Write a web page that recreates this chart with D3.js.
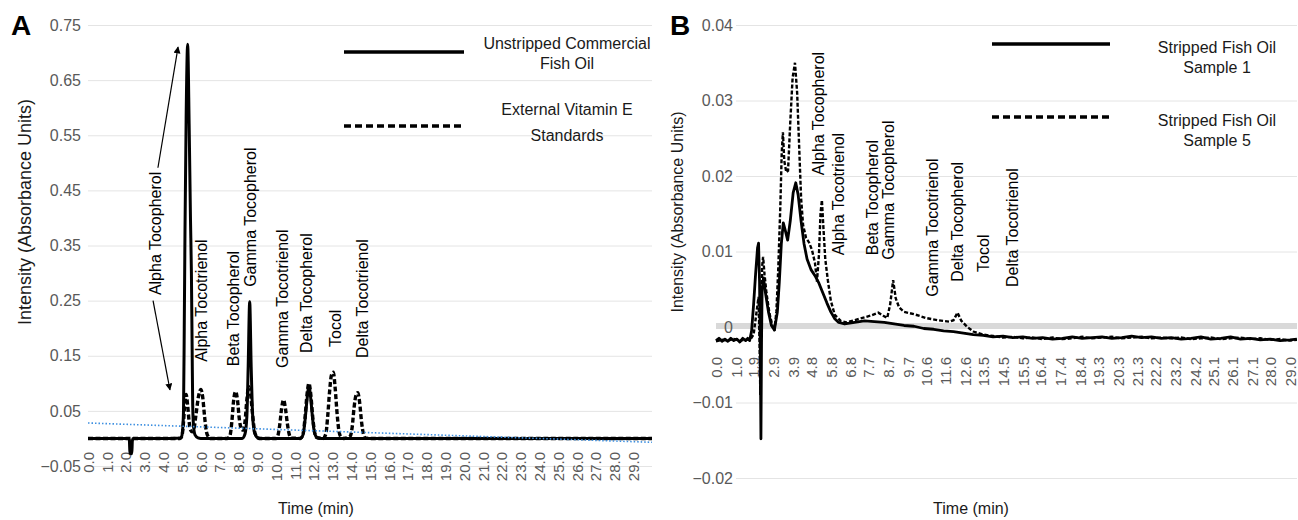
<!DOCTYPE html>
<html>
<head>
<meta charset="utf-8">
<script src="https://cdn.jsdelivr.net/npm/d3@7"></script>
<style>
  body { margin: 0; background: #fff; }
  svg text { font-family: "Liberation Sans", Arial, sans-serif; }
</style>
</head>
<body>
<svg id="chart" width="1298" height="520"></svg>
<script>
// ---- panel A data ----
var timeTicksA = [0,1,2,3,4,5,6,7,8,9,10,11,12,13,14,15,16,17,18,19,20,21,22,23,24,25,26,27,28,29];
var intensityTicksA = [-0.05,0.05,0.15,0.25,0.35,0.45,0.55,0.65,0.75];

// Unstripped Commercial Fish Oil  [time, intensity]
var unstrippedOil = [
  [0,0],[2.15,0],[2.2,-0.003],[2.23,-0.027],[2.33,-0.028],[2.36,-0.004],[2.4,0],[4.0,0],
  [4.95,0.001],[5.02,0.01],[5.08,0.05],[5.12,0.2],[5.16,0.38],[5.22,0.58],[5.3,0.715],
  [5.38,0.57],[5.45,0.4],[5.5,0.3],[5.54,0.16],[5.57,0.06],[5.62,0.02],[5.7,0.006],[5.85,0.001],
  [6.0,0],[8.2,0],[8.35,0.008],[8.45,0.04],[8.52,0.13],[8.6,0.248],[8.68,0.13],[8.76,0.04],
  [8.86,0.01],[9.0,0.002],[9.2,0],[11.3,0],[11.45,0.008],[11.55,0.035],[11.65,0.07],
  [11.75,0.095],[11.85,0.072],[11.95,0.035],[12.05,0.01],[12.2,0.001],[12.4,0],[30,0]
];

// External Vitamin E Standards
var vitaminEStd = [
  [0,0],[4.9,0],[5.0,0.005],[5.08,0.03],[5.15,0.065],[5.22,0.08],[5.3,0.06],[5.38,0.03],
  [5.46,0.015],[5.55,0.012],[5.65,0.02],[5.75,0.045],[5.9,0.08],[6.0,0.089],[6.1,0.075],
  [6.2,0.04],[6.3,0.012],[6.4,0.003],[6.5,0],[7.4,0],[7.55,0.005],[7.65,0.03],[7.75,0.07],
  [7.85,0.085],[7.95,0.07],[8.05,0.035],[8.15,0.018],[8.25,0.015],[8.35,0.03],[8.45,0.07],
  [8.55,0.094],[8.65,0.08],[8.75,0.045],[8.85,0.015],[8.95,0.004],[9.1,0],[10.0,0],
  [10.1,0.005],[10.2,0.025],[10.3,0.055],[10.4,0.07],[10.5,0.055],[10.6,0.028],[10.7,0.008],
  [10.8,0.001],[11.3,0],[11.45,0.01],[11.55,0.04],[11.65,0.08],[11.75,0.1],[11.85,0.08],
  [11.95,0.04],[12.05,0.012],[12.15,0.002],[12.5,0],[12.65,0.008],[12.75,0.04],[12.85,0.085],
  [12.95,0.115],[13.05,0.12],[13.15,0.09],[13.25,0.045],[13.35,0.013],[13.45,0.003],[13.6,0],
  [13.95,0.004],[14.05,0.02],[14.15,0.055],[14.25,0.078],[14.35,0.083],[14.45,0.065],
  [14.55,0.03],[14.65,0.008],[14.75,0.001],[15,0],[30,0]
];

var trendA = [[0,0.028],[30,-0.007]];

var compoundsA = ["Alpha Tocopherol","Alpha Tocotrienol","Beta Tocopherol","Gamma Tocopherol",
  "Gamma Tocotrienol","Delta Tocopherol","Tocol","Delta Tocotrienol"];
var compoundTimeA = [3.56,6.01,7.71,8.62,10.32,11.6,13.14,14.57];
var compoundBaseA = [0.26,0.139,0.131,0.275,0.128,0.155,0.166,0.146];
// arrows from the Alpha Tocopherol label  [t1, v1, t2, v2]
var arrowsA = [[3.72,0.491,4.79,0.71],[3.46,0.25,4.36,0.088]];

// ---- panel B data ----
var timeTicksB = [0.0,1.0,1.9,2.9,3.9,4.8,5.8,6.8,7.7,8.7,9.7,10.6,11.6,12.6,13.5,14.5,15.5,
  16.4,17.4,18.4,19.3,20.3,21.3,22.2,23.2,24.2,25.1,26.1,27.1,28.0,29.0];
var intensityTicksB = [-0.02,-0.01,0,0.01,0.02,0.03,0.04];

// Stripped Fish Oil Sample 1
var sample1 = [
  [0,-0.0018],[0.15,-0.0015],[0.3,-0.0019],[0.45,-0.0016],[0.6,-0.0019],[0.75,-0.0015],
  [0.9,-0.0018],[1.05,-0.0016],[1.2,-0.0020],[1.35,-0.0015],[1.5,-0.0018],[1.6,-0.0015],[1.7,-0.0018],
  [1.8,-0.0005],[1.9,0.003],[2.0,0.007],[2.1,0.0105],[2.15,0.0111],[2.2,0.006],[2.24,-0.004],
  [2.27,-0.0148],[2.3,-0.002],[2.33,0.005],[2.4,0.0065],[2.5,0.0045],[2.65,0.002],[2.8,0.0002],
  [2.95,-0.0004],[3.1,0.002],[3.2,0.006],[3.3,0.011],[3.4,0.0138],[3.5,0.0128],[3.62,0.0115],
  [3.75,0.014],[3.9,0.0178],[4.03,0.0191],[4.15,0.0175],[4.3,0.014],[4.45,0.011],[4.6,0.009],
  [4.8,0.0076],[5.0,0.0068],[5.2,0.0058],[5.4,0.0045],[5.6,0.0032],[5.8,0.002],[6.0,0.0011],
  [6.2,0.0006],[6.5,0.0004],[7.0,0.0006],[7.5,0.0008],[8.0,0.0007],[8.5,0.0006],[9.0,0.0004],
  [9.5,0.0002],[10.0,0.0001],[10.5,-0.0002],[11.0,-0.0003],[11.5,-0.0005],[12.0,-0.0006],
  [12.5,-0.0008],[13.0,-0.001],[13.5,-0.0011],[14.0,-0.0013],[14.5,-0.0012],[15.0,-0.0014],
  [15.5,-0.0013],[16.0,-0.0015],[16.5,-0.0014],[17.0,-0.0016],[17.5,-0.0015],[18.0,-0.0013],
  [18.5,-0.0015],[19.0,-0.0014],[19.5,-0.0013],[20.0,-0.0015],[20.5,-0.0014],[21.0,-0.0012],
  [21.5,-0.0014],[22.0,-0.0013],[22.5,-0.0015],[23.0,-0.0014],[23.5,-0.0016],[24.0,-0.0015],
  [24.5,-0.0013],[25.0,-0.0016],[25.5,-0.0015],[26.0,-0.0013],[26.5,-0.0016],[27.0,-0.0015],
  [27.5,-0.0017],[28.0,-0.0016],[28.5,-0.0018],[29.0,-0.0017],[29.35,-0.0016]
];

// Stripped Fish Oil Sample 5
var sample5 = [
  [0,-0.0019],[0.3,-0.0017],[0.6,-0.0018],[0.9,-0.0016],[1.2,-0.0018],[1.5,-0.0017],[1.75,-0.0016],
  [1.9,-0.001],[2.05,0.002],[2.15,0.004],[2.2,-0.002],[2.24,-0.009],[2.28,0.001],[2.33,0.008],
  [2.38,0.0093],[2.45,0.007],[2.55,0.0045],[2.7,0.0018],[2.85,0.0002],[2.95,-0.0005],[3.05,0.002],
  [3.15,0.008],[3.25,0.016],[3.32,0.023],[3.38,0.0258],[3.45,0.022],[3.55,0.0205],[3.64,0.0207],
  [3.75,0.027],[3.87,0.033],[3.99,0.035],[4.1,0.031],[4.2,0.024],[4.3,0.017],[4.4,0.0135],
  [4.55,0.0118],[4.7,0.0112],[4.85,0.0102],[5.0,0.0085],[5.1,0.006],[5.2,0.0095],[5.28,0.015],
  [5.35,0.0168],[5.43,0.013],[5.52,0.009],[5.65,0.0062],[5.8,0.0035],[6.0,0.0016],[6.3,0.0008],
  [6.6,0.0006],[7.0,0.0009],[7.4,0.0012],[7.8,0.0015],[8.2,0.0019],[8.45,0.0015],[8.65,0.0012],
  [8.8,0.003],[8.95,0.0062],[9.08,0.0038],[9.25,0.0026],[9.5,0.002],[10.0,0.0017],[10.6,0.0012],
  [11.2,0.0009],[11.8,0.0007],[12.0,0.0009],[12.2,0.0019],[12.4,0.0008],[12.7,0.0],[13.0,-0.0006],
  [13.5,-0.001],[14.0,-0.0012],[14.5,-0.0014],[15.0,-0.0013],[15.5,-0.0015],[16.0,-0.0014],
  [16.5,-0.0016],[17.0,-0.0014],[17.5,-0.0016],[18.0,-0.0015],[18.5,-0.0013],[19.0,-0.0015],
  [19.5,-0.0014],[20.0,-0.0013],[20.5,-0.0015],[21.0,-0.0014],[21.5,-0.0013],[22.0,-0.0015],
  [22.5,-0.0014],[23.0,-0.0015],[23.5,-0.0014],[24.0,-0.0016],[24.5,-0.0015],[25.0,-0.0014],
  [25.5,-0.0016],[26.0,-0.0015],[26.5,-0.0014],[27.0,-0.0016],[27.5,-0.0015],[28.0,-0.0017],
  [28.5,-0.0016],[29.0,-0.0018],[29.35,-0.0017]
];

var compoundTimeB = [5.15,6.16,7.88,8.69,10.92,12.18,13.5,14.97];
var compoundBaseB = [0.0201,0.0095,0.0095,0.0089,0.004,0.006,0.0073,0.0053];

var svg = d3.select("#chart");
var gridColor = "#e4e4e4";
var tickColor = "#595959";

svg.append("defs").append("marker")
  .attr("id", "arrowhead")
  .attr("viewBox", "0 0 10 10")
  .attr("refX", 9).attr("refY", 5)
  .attr("markerWidth", 7).attr("markerHeight", 7)
  .attr("markerUnits", "userSpaceOnUse")
  .attr("orient", "auto")
  .append("path").attr("d", "M0,0 L10,5 L0,10 z").attr("fill", "#000");

// ================= Panel A =================
var xA = d3.scaleLinear().domain([0, 30]).range([88, 652]);
var yA = d3.scaleLinear().domain([-0.05, 0.75]).range([466, 25]);

var yAxisA = svg.append("g")
  .attr("transform", "translate(88,0)")
  .call(d3.axisLeft(yA).tickValues(intensityTicksA).tickSize(-564).tickPadding(7)
    .tickFormat(d3.format(".2f")));
yAxisA.select(".domain").remove();
yAxisA.selectAll("line").attr("stroke", gridColor);
yAxisA.selectAll("text").attr("fill", tickColor).style("font-size", "16px");

var xAxisA = svg.append("g")
  .attr("transform", "translate(0,446)")
  .call(d3.axisBottom(xA).tickValues(timeTicksA).tickSize(0).tickFormat(d3.format(".1f")));
xAxisA.select(".domain").remove();
xAxisA.selectAll("text")
  .attr("transform", "rotate(-90)")
  .attr("text-anchor", "end")
  .attr("x", -6).attr("y", 0).attr("dy", "0.35em")
  .attr("fill", tickColor).style("font-size", "15px");

var lineA = d3.line().x(function(d){ return xA(d[0]); }).y(function(d){ return yA(d[1]); })
  .curve(d3.curveMonotoneX);

svg.append("path").datum(unstrippedOil).attr("d", lineA)
  .attr("fill", "none").attr("stroke", "#000").attr("stroke-width", 3);
svg.append("path").datum(vitaminEStd).attr("d", lineA)
  .attr("fill", "none").attr("stroke", "#000").attr("stroke-width", 3.4)
  .attr("stroke-dasharray", "5,2.5");
svg.append("path").datum(trendA).attr("d", d3.line().x(function(d){ return xA(d[0]); }).y(function(d){ return yA(d[1]); }))
  .attr("fill", "none").attr("stroke", "#3d8fe0").attr("stroke-width", 1.6)
  .attr("stroke-dasharray", "1.5,2");

svg.append("g").selectAll("text")
  .data(compoundsA)
  .join("text")
  .attr("transform", function(d, i){ return "translate(" + xA(compoundTimeA[i]) + "," + yA(compoundBaseA[i]) + ") rotate(-90)"; })
  .attr("dy", "0.35em")
  .attr("fill", "#000")
  .style("font-size", "16px")
  .text(function(d){ return d; });

svg.append("g").selectAll("line")
  .data(arrowsA)
  .join("line")
  .attr("x1", function(d){ return xA(d[0]); }).attr("y1", function(d){ return yA(d[1]); })
  .attr("x2", function(d){ return xA(d[2]); }).attr("y2", function(d){ return yA(d[3]); })
  .attr("stroke", "#000").attr("stroke-width", 1.2)
  .attr("marker-end", "url(#arrowhead)");

// legend A
svg.append("line").attr("x1", 344).attr("x2", 464).attr("y1", 52).attr("y2", 52)
  .attr("stroke", "#000").attr("stroke-width", 3.5);
svg.append("line").attr("x1", 344).attr("x2", 464).attr("y1", 126).attr("y2", 126)
  .attr("stroke", "#000").attr("stroke-width", 3.5).attr("stroke-dasharray", "7,4");
var legA = svg.append("text").attr("text-anchor", "middle").attr("fill", "#1a1a1a").style("font-size", "16px");
legA.append("tspan").attr("x", 567).attr("y", 49).text("Unstripped Commercial");
legA.append("tspan").attr("x", 567).attr("y", 69).text("Fish Oil");
var legA2 = svg.append("text").attr("text-anchor", "middle").attr("fill", "#1a1a1a").style("font-size", "16px");
legA2.append("tspan").attr("x", 567).attr("y", 115).text("External  Vitamin E");
legA2.append("tspan").attr("x", 567).attr("y", 141).text("Standards");

svg.append("text").attr("transform", "translate(25,212) rotate(-90)")
  .attr("text-anchor", "middle").attr("dy", "0.35em").attr("fill", "#1a1a1a")
  .style("font-size", "18px").text("Intensity (Absorbance Units)");
svg.append("text").attr("x", 316).attr("y", 514).attr("text-anchor", "middle")
  .attr("fill", "#1a1a1a").style("font-size", "16px").text("Time (min)");
svg.append("text").attr("x", 11).attr("y", 35).style("font-size", "28px")
  .style("font-weight", "bold").text("A");

// ================= Panel B =================
var xB = d3.scaleLinear().domain([0, 29]).range([716, 1290]);
var yB = d3.scaleLinear().domain([-0.02, 0.04]).range([478, 25]);

var yAxisB = svg.append("g")
  .attr("transform", "translate(736,0)")
  .call(d3.axisLeft(yB).tickValues(intensityTicksB).tickSize(-561).tickPadding(3)
    .tickFormat(function(d){ return d === 0 ? "0" : d3.format(".2f")(d); }));
yAxisB.select(".domain").remove();
yAxisB.selectAll("line").attr("stroke", function(d){ return d === 0 ? "none" : gridColor; });
yAxisB.selectAll("text").attr("fill", tickColor).style("font-size", "16px");

svg.insert("line", "g")
  .attr("x1", xB(0)).attr("x2", 1297).attr("y1", yB(0) - 1).attr("y2", yB(0) - 1)
  .attr("stroke", "#d9d9d9").attr("stroke-width", 6);

var xAxisB = svg.append("g")
  .attr("transform", "translate(0,351)")
  .call(d3.axisBottom(xB).tickValues(timeTicksB).tickSize(0).tickFormat(d3.format(".1f")));
xAxisB.select(".domain").remove();
xAxisB.selectAll("text")
  .attr("transform", "rotate(-90)")
  .attr("text-anchor", "end")
  .attr("x", -6).attr("y", 0).attr("dy", "0.35em")
  .attr("fill", tickColor).style("font-size", "15px");

var lineB = d3.line().x(function(d){ return xB(d[0]); }).y(function(d){ return yB(d[1]); });

svg.append("path").datum(sample1).attr("d", lineB)
  .attr("fill", "none").attr("stroke", "#000").attr("stroke-width", 2.8)
  .attr("stroke-linejoin", "round");
svg.append("path").datum(sample5).attr("d", lineB)
  .attr("fill", "none").attr("stroke", "#000").attr("stroke-width", 2.4)
  .attr("stroke-dasharray", "4,2");

svg.append("g").selectAll("text")
  .data(compoundsA)
  .join("text")
  .attr("transform", function(d, i){ return "translate(" + xB(compoundTimeB[i]) + "," + yB(compoundBaseB[i]) + ") rotate(-90)"; })
  .attr("dy", "0.35em")
  .attr("fill", "#000")
  .style("font-size", "16px")
  .text(function(d){ return d; });

// legend B
svg.append("line").attr("x1", 992).attr("x2", 1110).attr("y1", 44).attr("y2", 44)
  .attr("stroke", "#000").attr("stroke-width", 3.5);
svg.append("line").attr("x1", 992).attr("x2", 1110).attr("y1", 117).attr("y2", 117)
  .attr("stroke", "#000").attr("stroke-width", 3.5).attr("stroke-dasharray", "7,4");
var legB = svg.append("text").attr("text-anchor", "middle").attr("fill", "#1a1a1a").style("font-size", "16px");
legB.append("tspan").attr("x", 1217).attr("y", 53).text("Stripped Fish Oil");
legB.append("tspan").attr("x", 1217).attr("y", 73).text("Sample 1");
var legB2 = svg.append("text").attr("text-anchor", "middle").attr("fill", "#1a1a1a").style("font-size", "16px");
legB2.append("tspan").attr("x", 1217).attr("y", 126).text("Stripped Fish Oil");
legB2.append("tspan").attr("x", 1217).attr("y", 146).text("Sample 5");

svg.append("text").attr("transform", "translate(677,212) rotate(-90)")
  .attr("text-anchor", "middle").attr("dy", "0.35em").attr("fill", "#1a1a1a")
  .style("font-size", "16px").text("Intensity  (Absorbance Units)");
svg.append("text").attr("x", 971).attr("y", 514).attr("text-anchor", "middle")
  .attr("fill", "#1a1a1a").style("font-size", "16px").text("Time (min)");
svg.append("text").attr("x", 670).attr("y", 35).style("font-size", "28px")
  .style("font-weight", "bold").text("B");
</script>
</body>
</html>
